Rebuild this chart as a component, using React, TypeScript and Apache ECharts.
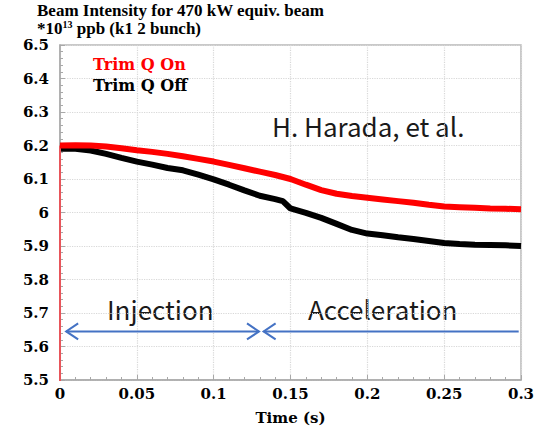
import { useEffect, useRef } from "react";
import * as echarts from "echarts";

// Time axis samples (s)
const timeS = [0, 0.01, 0.02, 0.03, 0.04, 0.05, 0.06, 0.07, 0.08, 0.09, 0.1, 0.11, 0.12, 0.13, 0.14, 0.145, 0.15, 0.16, 0.17, 0.18, 0.19, 0.2, 0.21, 0.22, 0.23, 0.24, 0.25, 0.26, 0.27, 0.28, 0.29, 0.3];
// Beam intensity (*10^13 ppb)
const trimQOn = [6.2, 6.201, 6.2, 6.197, 6.192, 6.186, 6.181, 6.175, 6.168, 6.16, 6.152, 6.142, 6.132, 6.122, 6.112, 6.106, 6.1, 6.083, 6.067, 6.056, 6.049, 6.044, 6.039, 6.034, 6.029, 6.023, 6.018, 6.016, 6.014, 6.012, 6.011, 6.01];
const trimQOff = [6.19, 6.19, 6.185, 6.175, 6.163, 6.152, 6.143, 6.133, 6.126, 6.113, 6.099, 6.083, 6.066, 6.05, 6.04, 6.034, 6.012, 5.999, 5.984, 5.966, 5.948, 5.937, 5.932, 5.926, 5.921, 5.915, 5.909, 5.906, 5.904, 5.903, 5.902, 5.9];
// the "on" trace rises from below the axis at t = 0
const trimQOnStart = [0, 5.0];

// Phase arrows: [start time, end time, level, left head, right head]
const phaseArrows = [
  [0.004, 0.1295, 5.645, 1, 1],
  [0.1325, 0.2985, 5.645, 1, 0],
];

const yTicks = { min: 5.5, max: 6.5, interval: 0.1 };
const xTicks = { min: 0, max: 0.3, interval: 0.05 };

const serif = "'DejaVu Serif', serif";
const titleSerif = "'Liberation Serif', 'Times New Roman', serif";
const sans = "'Noto Sans CJK JP', 'Noto Sans', sans-serif";

export default function App() {
  const ref = useRef<HTMLDivElement>(null);
  useEffect(() => {
    if (!ref.current) return;
    const chart = echarts.init(ref.current, undefined, { renderer: "svg" });
    const onRise = [trimQOnStart, [timeS[0], trimQOn[0]]];
    const onData = timeS.map((t, i) => [t, trimQOn[i]]);
    const offData = timeS.map((t, i) => [t, trimQOff[i]]);
    const axisLabel = { color: "#000", fontFamily: serif, fontWeight: "bold", fontSize: 15 };
    chart.setOption({
      animation: false,
      backgroundColor: "#fff",
      title: {
        left: 32,
        top: 0,
        padding: [1, 5, 0, 5],
        text: "{a|Beam Intensity for 470 kW equiv. beam}\n{a|*10}{sup|13}{a| ppb (k1 2 bunch)}",
        textStyle: {
          rich: {
            a: { fontFamily: titleSerif, fontWeight: "bold", fontSize: 17, color: "#000", lineHeight: 18 },
            sup: { fontFamily: titleSerif, fontWeight: "bold", fontSize: 10, color: "#000", lineHeight: 18, verticalAlign: "top", padding: [0, 0, 7, 0] },
          },
        },
      },
      legend: {
        orient: "vertical",
        left: 83,
        top: 51,
        itemWidth: 0,
        itemHeight: 14,
        itemGap: 5,
        icon: "rect",
        selectedMode: false,
        data: [
          { name: "Trim Q On", textStyle: { color: "#ff0000" } },
          { name: "Trim Q Off", textStyle: { color: "#000" } },
        ],
        textStyle: { fontFamily: serif, fontWeight: "bold", fontSize: 16 },
      },
      grid: {
        left: 60,
        right: 24,
        top: 45,
        bottom: 37,
        show: true,
        borderColor: "#b8b8b8",
        borderWidth: 1.5,
      },
      xAxis: {
        type: "value",
        min: xTicks.min,
        max: xTicks.max,
        interval: xTicks.interval,
        name: "Time (s)",
        nameLocation: "middle",
        nameGap: 30,
        nameTextStyle: { color: "#000", fontFamily: serif, fontWeight: "bold", fontSize: 15 },
        axisLine: { lineStyle: { color: "#a8a8a8", width: 1.5 } },
        axisTick: { inside: true, length: 5, lineStyle: { color: "#a8a8a8" } },
        minorTick: { show: true, splitNumber: 5, length: 3, lineStyle: { color: "#a8a8a8" } },
        axisLabel: { ...axisLabel, margin: 6 },
        splitLine: { show: true, lineStyle: { color: "#d8d8d8", type: "dotted", width: 1.2 } },
      },
      yAxis: {
        type: "value",
        min: yTicks.min,
        max: yTicks.max,
        interval: yTicks.interval,
        axisLine: { show: true, lineStyle: { color: "#a8a8a8", width: 1.5 } },
        axisTick: { show: true, inside: true, length: 5, lineStyle: { color: "#a8a8a8" } },
        minorTick: { show: true, splitNumber: 5, length: 3, lineStyle: { color: "#a8a8a8" } },
        axisLabel: { ...axisLabel, margin: 11 },
        splitLine: { show: true, lineStyle: { color: "#d8d8d8", type: "dotted", width: 1.2 } },
      },
      series: [
        {
          name: "Trim Q Off",
          type: "line",
          data: offData,
          showSymbol: false,
          symbol: "none",
          color: "#000",
          lineStyle: { color: "#000", width: 6 },
          clip: true,
          z: 3,
        },
        {
          name: "Trim Q On",
          type: "line",
          data: onRise,
          showSymbol: false,
          symbol: "none",
          color: "#ff0000",
          lineStyle: { color: "#e8555a", width: 2 },
          clip: true,
          z: 4,
        },
        {
          name: "Trim Q On",
          type: "line",
          data: onData,
          showSymbol: false,
          symbol: "none",
          color: "#ff0000",
          lineStyle: { color: "#ff0000", width: 6 },
          clip: true,
          z: 4,
        },
        {
          type: "custom",
          silent: true,
          clip: false,
          z: 5,
          encode: { x: [0, 1], y: 2 },
          data: phaseArrows,
          renderItem: (_params: any, api: any) => {
            const y = api.value(2);
            const a = api.coord([api.value(0), y]);
            const b = api.coord([api.value(1), y]);
            const style = { stroke: "#4472C4", lineWidth: 2, fill: null };
            const children: any[] = [
              { type: "line", shape: { x1: a[0], y1: a[1], x2: b[0], y2: b[1] }, style },
            ];
            if (api.value(3)) {
              children.push({ type: "polyline", shape: { points: [[a[0] + 12, a[1] - 8], [a[0], a[1]], [a[0] + 12, a[1] + 8]] }, style });
            }
            if (api.value(4)) {
              children.push({ type: "polyline", shape: { points: [[b[0] - 12, b[1] - 8], [b[0], b[1]], [b[0] - 12, b[1] + 8]] }, style });
            }
            return { type: "group", children };
          },
        },
      ],
      graphic: [
        { type: "text", left: 272, top: 112, style: { text: "H. Harada, et al.", fontFamily: sans, fontSize: 26, fill: "#1a1a1a" } },
        { type: "text", left: 107, top: 295, style: { text: "Injection", fontFamily: sans, fontSize: 26, fill: "#1a1a1a" } },
        { type: "text", left: 308, top: 295, style: { text: "Acceleration", fontFamily: sans, fontSize: 26, fill: "#1a1a1a" } },
      ],
    });
    return () => chart.dispose();
  }, []);
  return <div ref={ref} style={{ width: 545, height: 430, position: "absolute", left: 0, top: 0 }} />;
}
